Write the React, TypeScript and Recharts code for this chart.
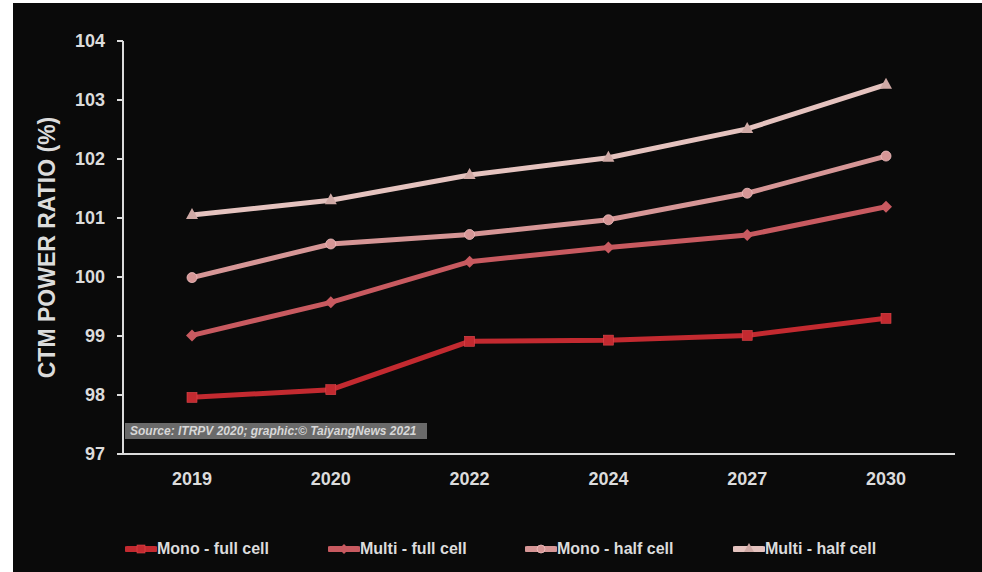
import React from 'react';
import { LineChart, Line, XAxis, YAxis, Legend } from 'recharts';

const years = ['2019', '2020', '2022', '2024', '2027', '2030'];
const monoFull = [97.96, 98.09, 98.91, 98.93, 99.01, 99.3];
const multiFull = [99.01, 99.57, 100.26, 100.5, 100.71, 101.19];
const monoHalf = [99.99, 100.56, 100.72, 100.97, 101.42, 102.05];
const multiHalf = [101.05, 101.3, 101.73, 102.02, 102.51, 103.26];
const yTicks = [97, 98, 99, 100, 101, 102, 103, 104];

const seriesNames = ['Mono - full cell', 'Multi - full cell', 'Mono - half cell', 'Multi - half cell'];
const seriesKeys = ['monoFull', 'multiFull', 'monoHalf', 'multiHalf'];
const seriesColors = ['#c32a30', '#c85a60', '#d69696', '#e5c3bf'];
const seriesShapes = ['square', 'diamond', 'circle', 'triangle'];

const data = years.map((y, i) => ({
  year: y,
  monoFull: monoFull[i],
  multiFull: multiFull[i],
  monoHalf: monoHalf[i],
  multiHalf: multiHalf[i],
}));

const AXIS = '#dcdcdc';
const FONT = '"Liberation Sans", Arial, sans-serif';

function Marker({ cx, cy, shape, color, s = 5 }: any) {
  if (cx == null || cy == null) return null;
  if (shape === 'square') return <rect x={cx - s} y={cy - s} width={2 * s} height={2 * s} fill={color} stroke="#e0474c" strokeWidth={0.6} />;
  if (shape === 'diamond') return <polygon points={`${cx},${cy - s - 1} ${cx + s + 1},${cy} ${cx},${cy + s + 1} ${cx - s - 1},${cy}`} fill={color} />;
  if (shape === 'circle') return <circle cx={cx} cy={cy} r={s} fill={color} stroke="#f0c0c0" strokeWidth={0.8} />;
  return <polygon points={`${cx},${cy - s - 2} ${cx + s + 1},${cy + s - 1} ${cx - s - 1},${cy + s - 1}`} fill="#cfa9a5" />;
}

const legendLeft = [112, 315, 512, 720];

function LegendContent() {
  return (
    <div style={{ position: 'relative', width: 969, height: 24 }}>
      {seriesNames.map((n, i) => (
        <div key={n} style={{ position: 'absolute', left: legendLeft[i], top: 0, display: 'flex', alignItems: 'center', height: 24 }}>
          <svg width={32} height={14}>
            <line x1={2} y1={7} x2={30} y2={7} stroke={seriesColors[i]} strokeWidth={6} strokeLinecap="round" />
            <Marker cx={16} cy={7} shape={seriesShapes[i]} color={seriesColors[i]} s={4} />
          </svg>
          <span style={{ color: AXIS, fontFamily: FONT, fontWeight: 700, fontSize: 16, whiteSpace: 'nowrap' }}>{n}</span>
        </div>
      ))}
    </div>
  );
}

function YLabel(props: any) {
  const vb = props.viewBox || {};
  const x = vb.x + 34;
  const y = vb.y + vb.height / 2;
  return (
    <text x={x} y={y} transform={`rotate(-90 ${x} ${y})`} textAnchor="middle" dominantBaseline="central"
      fill={AXIS} fontFamily={FONT} fontWeight={700} fontSize={23}>
      CTM POWER RATIO (%)
    </text>
  );
}

export default function App() {
  return (
    <div style={{ position: 'absolute', left: 0, top: 0, width: 982, height: 572, background: '#ffffff', overflow: 'hidden' }}>
      <div style={{ position: 'absolute', left: 13, top: 3, width: 969, height: 569, background: '#0a0a0a' }}>
        <LineChart width={969} height={569} data={data} margin={{ top: 38, right: 27, bottom: 78, left: 0 }}>
          <XAxis dataKey="year" height={40} padding={{ left: 69, right: 69 }} axisLine={{ stroke: AXIS, strokeWidth: 2 }} tickLine={false} tickMargin={12}
            tick={{ fill: AXIS, fontFamily: FONT, fontWeight: 700, fontSize: 18 }} />
          <YAxis width={110} domain={[97, 104]} ticks={yTicks} interval={0} axisLine={{ stroke: AXIS, strokeWidth: 2 }}
            tickLine={{ stroke: AXIS, strokeWidth: 2 }} tickSize={6} tickMargin={12}
            tick={{ fill: AXIS, fontFamily: FONT, fontWeight: 700, fontSize: 18 }}
            label={<YLabel />} />
          {seriesKeys.map((k, i) => (
            <Line key={k} dataKey={k} name={seriesNames[i]} stroke={seriesColors[i]} strokeWidth={5}
              isAnimationActive={false} legendType="none"
              dot={(p: any) => <Marker key={`${k}-${p.index}`} cx={p.cx} cy={p.cy} shape={seriesShapes[i]} color={seriesColors[i]} />}
              activeDot={false} />
          ))}
          <Legend layout="horizontal" verticalAlign="middle" align="center" content={<LegendContent />}
            wrapperStyle={{ top: 534, left: 0, width: 969, height: 24 }} />
        </LineChart>
        <div style={{ position: 'absolute', left: 112, top: 420, width: 302, height: 16, background: '#6a6a6a', color: '#d8d8d8',
          fontFamily: FONT, fontWeight: 700, fontStyle: 'italic', fontSize: 12, lineHeight: '16px', paddingLeft: 5, boxSizing: 'border-box', whiteSpace: 'nowrap' }}>
          Source: ITRPV 2020; graphic:© TaiyangNews 2021
        </div>
      </div>
    </div>
  );
}
